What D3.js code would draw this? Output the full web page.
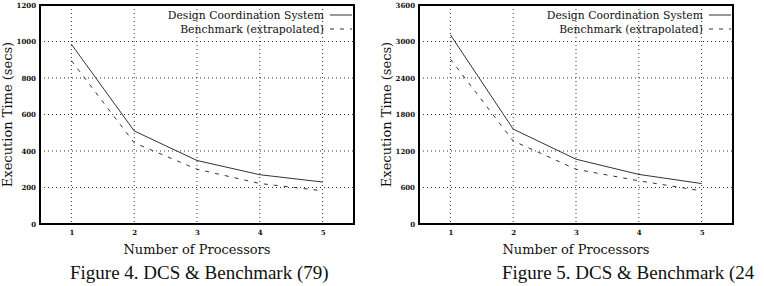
<!DOCTYPE html>
<html>
<head>
<meta charset="utf-8">
<script src="https://cdn.jsdelivr.net/npm/d3@7"></script>
<style>
  body { margin: 0; background: #fff; }
  svg { display: block; }
  text { font-family: "DejaVu Serif", serif; fill: #111; }
  .tick text { font-family: "DejaVu Serif", serif; font-size: 7px; font-weight: bold; }
  .caption { font-family: "Liberation Serif", "Times New Roman", serif; }
</style>
</head>
<body>
<svg width="764" height="286"></svg>
<script>
const processors = [1, 2, 3, 4, 5];

// figure 4 (79)
const dcs79 = [985, 510, 348, 270, 230];
const bench79 = [895, 445, 300, 222, 182];
const yTicks79 = [0, 200, 400, 600, 800, 1000, 1200];

// figure 5 (24..)
const dcs24 = [3110, 1560, 1065, 815, 665];
const bench24 = [2710, 1365, 900, 710, 545];
const yTicks24 = [0, 600, 1200, 1800, 2400, 3000, 3600];

const seriesNames = ["Design Coordination System", "Benchmark (extrapolated)"];
const captions = ["Figure 4. DCS & Benchmark (79)", "Figure 5. DCS & Benchmark (24"];

const svg = d3.select("svg");

function drawChart(left, dcs, bench, yTicks, caption, captionX) {
  const plotW = 314, top = 5, bottom = 224;
  const g = svg.append("g").attr("transform", `translate(${left},0)`);

  const x = d3.scaleLinear().domain([0.5, 5.5]).range([0, plotW]);
  const y = d3.scaleLinear().domain([0, yTicks[yTicks.length - 1]]).range([bottom, top]);

  // dotted grid
  g.append("g")
    .selectAll("line.gx")
    .data(processors)
    .join("line")
    .attr("class", "gx")
    .attr("x1", d => x(d)).attr("x2", d => x(d))
    .attr("y1", top).attr("y2", bottom)
    .attr("stroke", "#333").attr("stroke-width", 1)
    .attr("stroke-dasharray", "1,3");
  g.append("g")
    .selectAll("line.gy")
    .data(yTicks.slice(1, -1))
    .join("line")
    .attr("class", "gy")
    .attr("x1", 0).attr("x2", plotW)
    .attr("y1", d => y(d)).attr("y2", d => y(d))
    .attr("stroke", "#333").attr("stroke-width", 1)
    .attr("stroke-dasharray", "1,3");

  // axes
  g.append("g")
    .attr("transform", `translate(0,${bottom})`)
    .call(d3.axisBottom(x).tickValues(processors).tickFormat(d3.format("d")).tickSize(0).tickPadding(6))
    .call(a => a.select(".domain").remove());
  g.append("g")
    .call(d3.axisLeft(y).tickValues(yTicks).tickFormat(d3.format("d")).tickSize(0).tickPadding(4))
    .call(a => a.select(".domain").remove());

  // lines
  const line = d3.line().x((d, i) => x(processors[i])).y(d => y(d));
  g.append("path").datum(dcs)
    .attr("d", line).attr("fill", "none")
    .attr("stroke", "#333").attr("stroke-width", 1);
  g.append("path").datum(bench)
    .attr("d", line).attr("fill", "none")
    .attr("stroke", "#333").attr("stroke-width", 1)
    .attr("stroke-dasharray", "4,6");

  // legend
  seriesNames.forEach((name, i) => {
    const ly = 15 + i * 14;
    g.append("text")
      .attr("x", 284).attr("y", ly + 4)
      .attr("text-anchor", "end")
      .style("font-size", "10.8px")
      .text(name);
    g.append("line")
      .attr("x1", 290).attr("x2", 312)
      .attr("y1", ly).attr("y2", ly)
      .attr("stroke", "#333")
      .attr("stroke-dasharray", i ? "4,6" : null);
  });

  // frame
  g.append("rect")
    .attr("x", 0).attr("y", top)
    .attr("width", plotW).attr("height", bottom - top)
    .attr("fill", "none").attr("stroke", "#000").attr("stroke-width", 2);

  // titles
  g.append("text")
    .attr("transform", `translate(-28,${(top + bottom) / 2}) rotate(-90)`)
    .attr("text-anchor", "middle")
    .style("font-size", "13px")
    .text("Execution Time (secs)");
  g.append("text")
    .attr("x", plotW / 2).attr("y", 254)
    .attr("text-anchor", "middle")
    .style("font-size", "13px")
    .text("Number of Processors");
  g.append("text")
    .attr("class", "caption")
    .attr("x", captionX).attr("y", 279)
    .style("font-size", "19px")
    .text(caption);
}

drawChart(40, dcs79, bench79, yTicks79, captions[0], 30);
drawChart(419, dcs24, bench24, yTicks24, captions[1], 83);
</script>
</body>
</html>
